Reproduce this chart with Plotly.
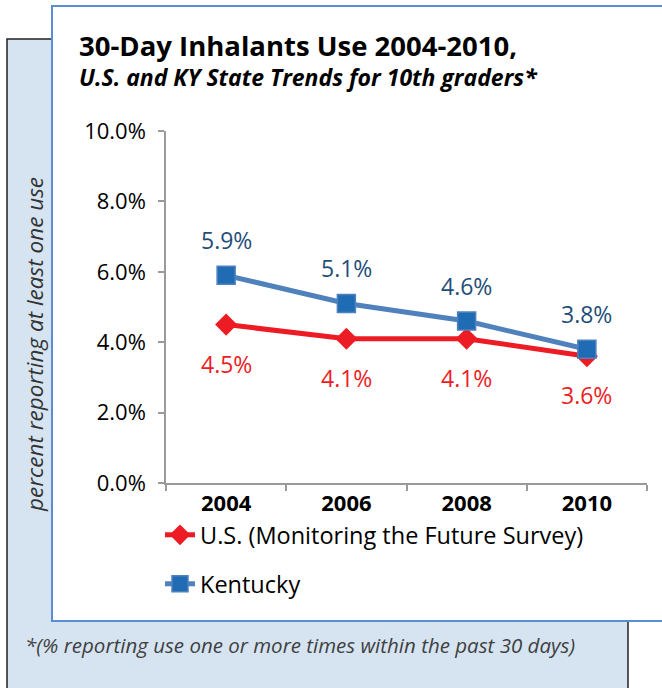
import plotly.graph_objects as go

# Survey years and 30-day inhalant use (% of 10th graders)
years = ["2004", "2006", "2008", "2010"]
us_values = [4.5, 4.1, 4.1, 3.6]
ky_values = [5.9, 5.1, 4.6, 3.8]
y_ticks = [0, 2, 4, 6, 8, 10]

W, H = 662, 688


def px(x):
    return x / W


def py(y):
    return 1 - y / H


FONT = "Open Sans"
RED = "#ED1C24"
BLUE_LINE = "#4F81BD"
BLUE_MARK = "#1F6CB5"
BLUE_TEXT = "#1F4E79"

fig = go.Figure()

fig.add_trace(go.Scatter(
    x=years, y=us_values, mode="lines+markers",
    name="U.S. (Monitoring the Future Survey)",
    line=dict(color=RED, width=5),
    marker=dict(symbol="diamond", size=17, color=RED),
    legend="legend", hoverinfo="skip",
))
fig.add_trace(go.Scatter(
    x=years, y=ky_values, mode="lines+markers",
    name="Kentucky",
    line=dict(color=BLUE_LINE, width=5),
    marker=dict(symbol="square", size=18, color=BLUE_MARK,
                line=dict(color=BLUE_LINE, width=1.5)),
    legend="legend2", hoverinfo="skip",
))

annotations = []
# value labels: Kentucky above its markers, U.S. below
# (category axis -> annotations use the category index)
for i, v in enumerate(ky_values):
    annotations.append(dict(x=i, y=v, xref="x", yref="y", text=f"{v:.1f}%",
                            showarrow=False, yshift=35, yanchor="middle",
                            font=dict(family=FONT, size=23, color=BLUE_TEXT)))
for i, v in enumerate(us_values):
    annotations.append(dict(x=i, y=v, xref="x", yref="y", text=f"{v:.1f}%",
                            showarrow=False, yshift=-39, yanchor="middle",
                            font=dict(family=FONT, size=23, color=RED)))

# titles, axis title and footnote
annotations += [
    dict(x=px(77), y=py(45), xref="paper", yref="paper", xanchor="left", yanchor="middle",
         text="<b>30-Day Inhalants Use 2004-2010,</b>", showarrow=False,
         font=dict(family=FONT, size=27.5, color="#000000")),
    dict(x=px(77), y=py(77), xref="paper", yref="paper", xanchor="left", yanchor="middle",
         text="<b><i>U.S. and KY State Trends for 10th graders*</i></b>", showarrow=False,
         font=dict(family=FONT, size=23, color="#000000")),
    dict(x=px(34), y=py(345), xref="paper", yref="paper", xanchor="center", yanchor="middle",
         text="<i>percent reporting at least one use</i>", showarrow=False, textangle=-90,
         font=dict(family=FONT, size=22.5, color="#333333")),
    dict(x=px(23), y=py(645), xref="paper", yref="paper", xanchor="left", yanchor="middle",
         text="<i>*(% reporting use one or more times within the past 30 days)</i>", showarrow=False,
         font=dict(family=FONT, size=20.5, color="#404040")),
]

shapes = [
    # shaded back panel
    dict(type="rect", xref="paper", yref="paper", layer="below",
         x0=px(7), x1=px(628), y0=-0.05, y1=py(39),
         fillcolor="#D6E4F2", line=dict(color="#222222", width=1.5)),
    # white chart card
    dict(type="rect", xref="paper", yref="paper", layer="below",
         x0=px(52), x1=1.05, y0=py(621), y1=py(6),
         fillcolor="#FFFFFF", line=dict(color="#5B8ED0", width=2)),
]

fig.update_layout(
    width=W, height=H,
    margin=dict(l=0, r=0, t=0, b=0, autoexpand=False),
    paper_bgcolor="rgba(0,0,0,0)",
    plot_bgcolor="rgba(0,0,0,0)",
    showlegend=True,
    annotations=annotations,
    shapes=shapes,
    xaxis=dict(
        domain=[px(166), px(647)],
        type="category", range=[-0.5, 3.5],
        showgrid=False, zeroline=False,
        showline=True, linecolor="#9A9A9A", linewidth=1.5,
        ticks="outside", tickson="boundaries", ticklen=6, tickcolor="#9A9A9A", tickwidth=1.5,
        tickfont=dict(family=FONT, size=22, color="#000000"),
        tickprefix="<b>", ticksuffix="</b>",
        fixedrange=True,
    ),
    yaxis=dict(
        domain=[py(483), py(131)],
        range=[0, 10],
        tickvals=y_ticks,
        ticktext=[f"{t:.1f}%" for t in y_ticks],
        showgrid=False, zeroline=False,
        showline=True, linecolor="#9A9A9A", linewidth=1.5,
        ticks="outside", ticklen=6, tickcolor="#9A9A9A", tickwidth=1.5,
        ticklabelstandoff=8,
        tickfont=dict(family=FONT, size=22, color="#000000"),
        fixedrange=True,
    ),
    legend=dict(x=px(160), y=py(535), xanchor="left", yanchor="middle",
                bgcolor="rgba(0,0,0,0)", borderwidth=0,
                font=dict(family=FONT, size=23.5, color="#000000")),
    legend2=dict(x=px(160), y=py(584), xanchor="left", yanchor="middle",
                 bgcolor="rgba(0,0,0,0)", borderwidth=0,
                 font=dict(family=FONT, size=23.5, color="#000000")),
)

fig.write_html("out.html")
